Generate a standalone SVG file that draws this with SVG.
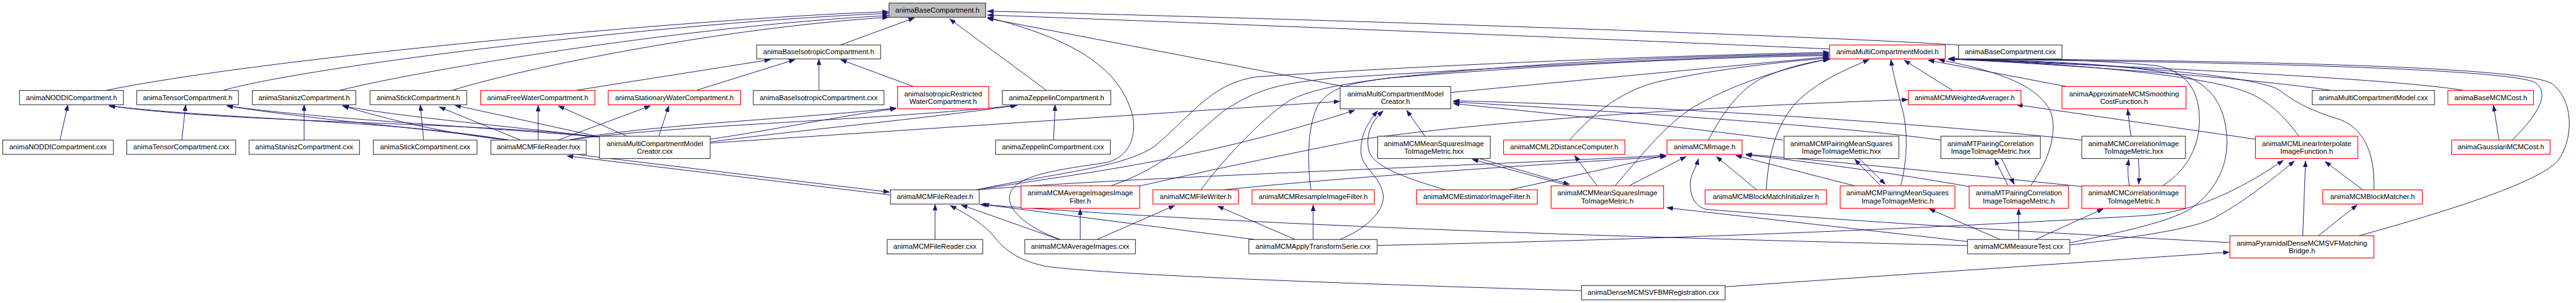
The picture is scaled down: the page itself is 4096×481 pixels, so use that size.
<svg xmlns="http://www.w3.org/2000/svg" width="4096" height="481" viewBox="0 0 4096 481">
<defs>
<style>
.e{fill:none;stroke:#191970;stroke-width:1.1;marker-end:url(#a)}
.b{fill:#fff;stroke:#404040;stroke-width:1.3}
.r{fill:#fff;stroke:#ff0000;stroke-width:1.3}
.g{fill:#bfbfbf;stroke:#404040;stroke-width:1.3}
text{font-family:"Liberation Sans",Arial,Helvetica,sans-serif;font-size:12.75px;fill:#000;text-anchor:middle}
</style>
<marker id="a" viewBox="0 0 11 8" refX="11" refY="4" markerWidth="11" markerHeight="8" markerUnits="userSpaceOnUse" orient="auto">
<path d="M0,0 L11,4 L0,8 z" fill="#191970" stroke="#191970" stroke-width="0.5"/>
</marker>
</defs>
<rect x="0" y="0" width="4096" height="481" fill="#fff"/>
<g transform="scale(0.884)">
<g id="edges">
<path class="e" d="M192,162 C500,100 1300,30 1598,21"/>
<path class="e" d="M402,162 C560,118 1200,40 1598,24"/>
<path class="e" d="M612,162 C760,125 1250,45 1598,28"/>
<path class="e" d="M814,162 C950,120 1300,50 1598,31"/>
<path class="e" d="M1511,81 L1645,32"/>
<path class="e" d="M1882,162 L1708,34"/>
<path class="e" d="M1037,162 L1386,107"/>
<path class="e" d="M1253,162 L1430,107"/>
<path class="e" d="M1473,162 L1473,106"/>
<path class="e" d="M1642,155 L1512,107"/>
<path class="e" d="M108,251.5 L122,188"/>
<path class="e" d="M327,251.5 L334,188"/>
<path class="e" d="M547,251.5 L547,188"/>
<path class="e" d="M762,251.5 L756,188"/>
<path class="e" d="M1895,251.5 L1898,188"/>
<path class="e" d="M914,251.5 C700,215 400,215 196,190"/>
<path class="e" d="M1078,246 C850,218 420,222 196,190"/>
<path class="e" d="M914,251.5 C750,228 560,215 408,190"/>
<path class="e" d="M1078,246 C820,225 560,212 408,190"/>
<path class="e" d="M914,251.5 C800,240 700,215 616,190"/>
<path class="e" d="M1078,246 C900,225 720,210 616,190"/>
<path class="e" d="M936,251.5 L790,192"/>
<path class="e" d="M1080,246 L818,189"/>
<path class="e" d="M968,251.5 L968,189"/>
<path class="e" d="M1128,244.6 L1004,190"/>
<path class="e" d="M1004,251.5 L1170,190"/>
<path class="e" d="M1185,244.6 L1203,190"/>
<path class="e" d="M1024,251.5 C1150,225 1450,212 1612,194"/>
<path class="e" d="M1277,250 C1400,232 1500,210 1612,195"/>
<path class="e" d="M1024,251.5 C1200,225 1600,215 1828,189"/>
<path class="e" d="M1277,255 C1450,232 1650,215 1830,189"/>
<path class="e" d="M1277,257 L2410,182"/>
<path class="e" d="M1038,277.5 L1600,345"/>
<path class="e" d="M1601,350 L1020,280"/>
<path class="e" d="M2416,155 L1776,33"/>
<path class="e" d="M1907,430 C1850,410 1805,375 1818,345 C1830,315 1900,305 1990,292 C2040,280 2045,230 2035,200 C2010,120 1930,70 1776,31"/>
<path class="e" d="M3523,81 C3300,66 2500,38 1776,20"/>
<path class="e" d="M3291,88 C3000,75 2400,50 1776,27"/>
<path class="e" d="M1682,430 L1682,367"/>
<path class="e" d="M1905,430 L1729,368"/>
<path class="e" d="M2256,430 L1768,367"/>
<path class="e" d="M3539,441 C3100,430 2300,410 1763,367"/>
<path class="e" d="M2845,522 C2500,512 2000,495 1880,478 C1820,465 1800,440 1784,420 C1760,395 1730,380 1709,369"/>
<path class="e" d="M1756,341 C1900,310 2030,300 2080,260 C2150,200 2180,150 2260,138 C2600,115 3000,100 3290,94"/>
<path class="e" d="M1756,341 C1950,310 2150,290 2437,198"/>
<path class="e" d="M1758,341 C2000,320 2600,300 2997,279"/>
<path class="e" d="M2610,166 L3290,102"/>
<path class="e" d="M2410,430 C2460,410 2495,375 2487,345 C2480,315 2450,300 2448,275 C2446,245 2460,220 2478,199"/>
<path class="e" d="M2600,341 C2530,320 2470,300 2462,270 C2455,240 2470,215 2488,199"/>
<path class="e" d="M2563,244.6 L2530,198"/>
<path class="e" d="M3207,251.5 C3000,225 2800,205 2614,186"/>
<path class="e" d="M3490,251.5 C3300,225 2900,200 2614,183"/>
<path class="e" d="M3744,251.5 C3500,225 3000,190 2614,181"/>
<path class="e" d="M1998,333.7 C2100,300 2150,240 2200,200 C2260,160 2300,150 2400,140 C2800,115 3100,100 3290,98"/>
<path class="e" d="M2160,341 C2190,300 2260,220 2320,180 C2380,150 2500,135 2820,113 C3000,102 3200,98 3290,96"/>
<path class="e" d="M2358,341 C2352,300 2350,230 2370,190 C2390,160 2420,150 2500,140 C2800,115 3100,102 3290,100"/>
<path class="e" d="M2823,251.5 C2870,200 2920,160 2990,145 C3100,122 3200,112 3290,104"/>
<path class="e" d="M2905,333.7 C2960,270 3000,220 3050,190 C3130,145 3220,120 3290,106"/>
<path class="e" d="M3073,251.5 C3100,200 3130,160 3170,140 C3210,122 3250,112 3292,106"/>
<path class="e" d="M3177,341 C3180,290 3190,230 3230,185 C3270,145 3320,125 3362,107"/>
<path class="e" d="M3419,333.7 C3432,280 3432,230 3420,190 C3410,150 3405,130 3401,107"/>
<path class="e" d="M3512,162.4 L3425,108"/>
<path class="e" d="M3717,155.4 L3468,108"/>
<path class="e" d="M3652,333.7 C3685,290 3700,240 3690,205 C3670,150 3580,125 3487,107"/>
<path class="e" d="M3890,333.7 C3935,305 3958,260 3956,210 C3955,160 3930,128 3880,118 C3750,105 3600,106 3505,106"/>
<path class="e" d="M4193,162.4 C4050,140 3700,115 3505,106"/>
<path class="e" d="M4432,162.4 C4300,140 3800,118 3505,106"/>
<path class="e" d="M4519,251.5 C4560,210 4590,170 4560,148 C4500,120 3900,110 3505,106"/>
<path class="e" d="M4243,423.3 C4400,380 4560,330 4600,290 C4630,250 4630,180 4590,150 C4530,115 3900,108 3505,105"/>
<path class="e" d="M4270,341 C4272,290 4260,235 4210,215 C4160,200 4130,185 4100,162 C4050,130 3700,110 3505,106"/>
<path class="e" d="M4135,244.6 C4110,210 4080,180 4040,165 C3950,130 3650,110 3505,106"/>
<path class="e" d="M3723,436 C3800,420 3900,400 3940,375 C3990,340 4010,290 4005,240 C4000,190 3980,160 3940,140 C3850,115 3650,108 3505,106"/>
<path class="e" d="M2930,333.7 L3033,281"/>
<path class="e" d="M3160,341 L3087,281"/>
<path class="e" d="M3336,333.7 L3122,279"/>
<path class="e" d="M3542,335 C3400,310 3250,290 3140,278"/>
<path class="e" d="M3745,335 C3500,310 3300,290 3140,277"/>
<path class="e" d="M4011,435.5 C3700,420 3300,395 3070,376 C3040,370 3035,330 3045,310 C3050,300 3053,292 3055,285"/>
<path class="e" d="M2200,341 C2400,320 2700,300 2997,281"/>
<path class="e" d="M2715,341 L2997,279"/>
<path class="e" d="M2050,334 C2200,300 2350,270 2450,250 C2700,215 3100,190 3432,179"/>
<path class="e" d="M4057,250 L3627,188"/>
<path class="e" d="M2823,333.7 L2648,286"/>
<path class="e" d="M2660,284.5 L2823,331"/>
<path class="e" d="M2873,333.7 L2832,279"/>
<path class="e" d="M3383,333.7 L3336,286"/>
<path class="e" d="M3344,284.5 L3391,331"/>
<path class="e" d="M3612,333.7 L3588,286"/>
<path class="e" d="M3600,284.5 L3623,331"/>
<path class="e" d="M3830,333.7 C3827,315 3827,300 3829,286"/>
<path class="e" d="M3846,284.5 C3848,300 3848,315 3847,331"/>
<path class="e" d="M3833,244.6 L3827,196"/>
<path class="e" d="M3598,430.2 L3470,375"/>
<path class="e" d="M3631,430.2 L3631,375"/>
<path class="e" d="M3661,430.2 L3783,375"/>
<path class="e" d="M3539,433.7 L2998,373"/>
<path class="e" d="M3723,440 C3850,425 3950,410 3985,390 C4040,360 4090,320 4127,289"/>
<path class="e" d="M2477,440.7 C2800,434 3300,420 3860,387 C3950,380 4030,340 4107,288"/>
<path class="e" d="M4495,251.5 L4485,189"/>
<path class="e" d="M4250,341 L4182,290"/>
<path class="e" d="M4142,423.3 L4147,289"/>
<path class="e" d="M4170,423.3 L4240,368"/>
<path class="e" d="M3103,515 L4010,452.8"/>
<path class="e" d="M1943,430.2 L1943,375"/>
<path class="e" d="M1973,430.2 L2113,369"/>
<path class="e" d="M2330,430.2 L2190,370"/>
<path class="e" d="M2362,430.2 L2362,368"/>
</g>
<g id="n_root"><rect class="g" x="1599" y="5.5" width="174" height="25.5"/><text x="1686" y="22.5">animaBaseCompartment.h</text></g>
<g id="n_baseiso_h"><rect class="b" x="1361" y="80.8" width="223" height="25"/><text x="1472.5" y="97.5">animaBaseIsotropicCompartment.h</text></g>
<g id="n_mcm_h"><rect class="r" x="3291" y="80.8" width="208" height="25"/><text x="3395" y="97.5">animaMultiCompartmentModel.h</text></g>
<g id="n_basecomp_cxx"><rect class="b" x="3523" y="80.8" width="186" height="25"/><text x="3616" y="97.5">animaBaseCompartment.cxx</text></g>
<g id="n_noddi_h"><rect class="b" x="35" y="162.4" width="187" height="25.7"/><text x="128.5" y="179.4">animaNODDICompartment.h</text></g>
<g id="n_tensor_h"><rect class="b" x="246" y="162.4" width="183" height="25.7"/><text x="337.5" y="179.4">animaTensorCompartment.h</text></g>
<g id="n_stanisz_h"><rect class="b" x="454" y="162.4" width="186" height="25.7"/><text x="547" y="179.4">animaStaniszCompartment.h</text></g>
<g id="n_stick_h"><rect class="b" x="665.5" y="162.4" width="174" height="25.7"/><text x="752.5" y="179.4">animaStickCompartment.h</text></g>
<g id="n_freewater_h"><rect class="r" x="864.5" y="162.4" width="205.5" height="25.7"/><text x="967.2" y="179.4">animaFreeWaterCompartment.h</text></g>
<g id="n_stationary_h"><rect class="r" x="1094" y="162.4" width="238" height="25.7"/><text x="1213" y="179.4">animaStationaryWaterCompartment.h</text></g>
<g id="n_baseiso_cxx"><rect class="b" x="1355" y="162.4" width="235" height="25.7"/><text x="1472.5" y="179.4">animaBaseIsotropicCompartment.cxx</text></g>
<g id="n_isorestricted_h"><rect class="r" x="1614.6" y="155.4" width="163.7" height="40"/><text x="1696.4" y="172.8">animaIsotropicRestricted</text><text x="1696.4" y="186.6">WaterCompartment.h</text></g>
<g id="n_zeppelin_h"><rect class="b" x="1803" y="162.4" width="195" height="25.7"/><text x="1900.5" y="179.4">animaZeppelinCompartment.h</text></g>
<g id="n_creator_h"><rect class="b" x="2410.5" y="155.4" width="199" height="40"/><text x="2510" y="172.8">animaMultiCompartmentModel</text><text x="2510" y="186.6">Creator.h</text></g>
<g id="n_weighted_h"><rect class="r" x="3432.7" y="162.4" width="202.4" height="25.7"/><text x="3533.9" y="179.4">animaMCMWeightedAverager.h</text></g>
<g id="n_approx_h"><rect class="r" x="3709" y="155.4" width="223" height="40"/><text x="3820.5" y="172.8">animaApproximateMCMSmoothing</text><text x="3820.5" y="186.6">CostFunction.h</text></g>
<g id="n_mcm_cxx"><rect class="b" x="4159" y="162.4" width="220" height="25.7"/><text x="4269" y="179.4">animaMultiCompartmentModel.cxx</text></g>
<g id="n_basemcmcost_h"><rect class="r" x="4403" y="162.4" width="154" height="25.7"/><text x="4480" y="179.4">animaBaseMCMCost.h</text></g>
<g id="n_noddi_cxx"><rect class="b" x="5" y="251.5" width="199" height="25.7"/><text x="104.5" y="268.5">animaNODDICompartment.cxx</text></g>
<g id="n_tensor_cxx"><rect class="b" x="228" y="251.5" width="196" height="25.7"/><text x="326" y="268.5">animaTensorCompartment.cxx</text></g>
<g id="n_stanisz_cxx"><rect class="b" x="448" y="251.5" width="198.6" height="25.7"/><text x="547.3" y="268.5">animaStaniszCompartment.cxx</text></g>
<g id="n_stick_cxx"><rect class="b" x="671.5" y="251.5" width="186.5" height="25.7"/><text x="764.7" y="268.5">animaStickCompartment.cxx</text></g>
<g id="n_filereader_hxx"><rect class="b" x="883" y="251.5" width="171.5" height="25.7"/><text x="968.7" y="268.5">animaMCMFileReader.hxx</text></g>
<g id="n_creator_cxx"><rect class="b" x="1078.4" y="244.6" width="199" height="40"/><text x="1177.9" y="262">animaMultiCompartmentModel</text><text x="1177.9" y="275.8">Creator.cxx</text></g>
<g id="n_zeppelin_cxx"><rect class="b" x="1790.7" y="251.5" width="206.5" height="25.7"/><text x="1894" y="268.5">animaZeppelinCompartment.cxx</text></g>
<g id="n_meansq_hxx"><rect class="b" x="2478" y="244.6" width="202.5" height="40"/><text x="2579.2" y="262">animaMCMMeanSquaresImage</text><text x="2579.2" y="275.8">ToImageMetric.hxx</text></g>
<g id="n_l2dist_h"><rect class="r" x="2704.4" y="251.5" width="218.4" height="25.7"/><text x="2813.6" y="268.5">animaMCML2DistanceComputer.h</text></g>
<g id="n_mcmimage_h"><rect class="r" x="2998.5" y="251.5" width="135" height="25.7"/><text x="3066" y="268.5">animaMCMImage.h</text></g>
<g id="n_pairingms_hxx"><rect class="b" x="3209" y="244.6" width="206.5" height="40"/><text x="3312.2" y="262">animaMCMPairingMeanSquares</text><text x="3312.2" y="275.8">ImageToImageMetric.hxx</text></g>
<g id="n_mtpairing_hxx"><rect class="b" x="3491" y="244.6" width="179" height="40"/><text x="3580.5" y="262">animaMTPairingCorrelation</text><text x="3580.5" y="275.8">ImageToImageMetric.hxx</text></g>
<g id="n_mcmcorr_hxx"><rect class="b" x="3744.5" y="244.6" width="186.5" height="40"/><text x="3837.7" y="262">animaMCMCorrelationImage</text><text x="3837.7" y="275.8">ToImageMetric.hxx</text></g>
<g id="n_linear_h"><rect class="r" x="4057" y="244.6" width="184" height="40"/><text x="4149" y="262">animaMCMLinearInterpolate</text><text x="4149" y="275.8">ImageFunction.h</text></g>
<g id="n_gaussian_h"><rect class="r" x="4410" y="251.5" width="177" height="25.7"/><text x="4498.5" y="268.5">animaGaussianMCMCost.h</text></g>
<g id="n_filereader_h"><rect class="b" x="1601.7" y="341" width="159.6" height="25.5"/><text x="1681.5" y="358">animaMCMFileReader.h</text></g>
<g id="n_avgfilter_h"><rect class="r" x="1836.5" y="333.7" width="213.3" height="40.3"/><text x="1943.1" y="351.2">animaMCMAverageImagesImage</text><text x="1943.1" y="365">Filter.h</text></g>
<g id="n_filewriter_h"><rect class="r" x="2073.7" y="341" width="154" height="25.5"/><text x="2150.7" y="358">animaMCMFileWriter.h</text></g>
<g id="n_resample_h"><rect class="r" x="2252" y="341" width="220" height="25.5"/><text x="2362" y="358">animaMCMResampleImageFilter.h</text></g>
<g id="n_estimator_h"><rect class="r" x="2547.8" y="341" width="217.3" height="25.5"/><text x="2656.4" y="358">animaMCMEstimatorImageFilter.h</text></g>
<g id="n_meansq_h"><rect class="r" x="2790" y="333.7" width="202.4" height="40.3"/><text x="2891.2" y="351.2">animaMCMMeanSquaresImage</text><text x="2891.2" y="365">ToImageMetric.h</text></g>
<g id="n_blockinit_h"><rect class="r" x="3067" y="341" width="218.4" height="25.5"/><text x="3176.2" y="358">animaMCMBlockMatchInitializer.h</text></g>
<g id="n_pairingms_h"><rect class="r" x="3310" y="333.7" width="206.4" height="40.3"/><text x="3413.2" y="351.2">animaMCMPairingMeanSquares</text><text x="3413.2" y="365">ImageToImageMetric.h</text></g>
<g id="n_mtpairing_h"><rect class="r" x="3542" y="333.7" width="178.6" height="40.3"/><text x="3631.3" y="351.2">animaMTPairingCorrelation</text><text x="3631.3" y="365">ImageToImageMetric.h</text></g>
<g id="n_mcmcorr_h"><rect class="r" x="3744.5" y="333.7" width="186.5" height="40.3"/><text x="3837.7" y="351.2">animaMCMCorrelationImage</text><text x="3837.7" y="365">ToImageMetric.h</text></g>
<g id="n_blockmatcher_h"><rect class="r" x="4178" y="341" width="179" height="25.5"/><text x="4267.5" y="358">animaMCMBlockMatcher.h</text></g>
<g id="n_filereader_cxx"><rect class="b" x="1595.7" y="430.2" width="172" height="25.7"/><text x="1681.7" y="447.2">animaMCMFileReader.cxx</text></g>
<g id="n_avgimages_cxx"><rect class="b" x="1843.4" y="430.2" width="199" height="25.7"/><text x="1942.9" y="447.2">animaMCMAverageImages.cxx</text></g>
<g id="n_apply_cxx"><rect class="b" x="2246.3" y="430.2" width="230.8" height="25.7"/><text x="2361.7" y="447.2">animaMCMApplyTransformSerie.cxx</text></g>
<g id="n_measure_cxx"><rect class="b" x="3539" y="430.2" width="184" height="25.7"/><text x="3631" y="447.2">animaMCMMeasureTest.cxx</text></g>
<g id="n_bridge_h"><rect class="r" x="4011" y="423.3" width="259" height="40"/><text x="4140.5" y="440.7">animaPyramidalDenseMCMSVFMatching</text><text x="4140.5" y="454.5">Bridge.h</text></g>
<g id="n_dense_cxx"><rect class="b" x="2844.7" y="512.8" width="258.3" height="25.6"/><text x="2973.8" y="529.8">animaDenseMCMSVFBMRegistration.cxx</text></g>
</g>
</svg>
